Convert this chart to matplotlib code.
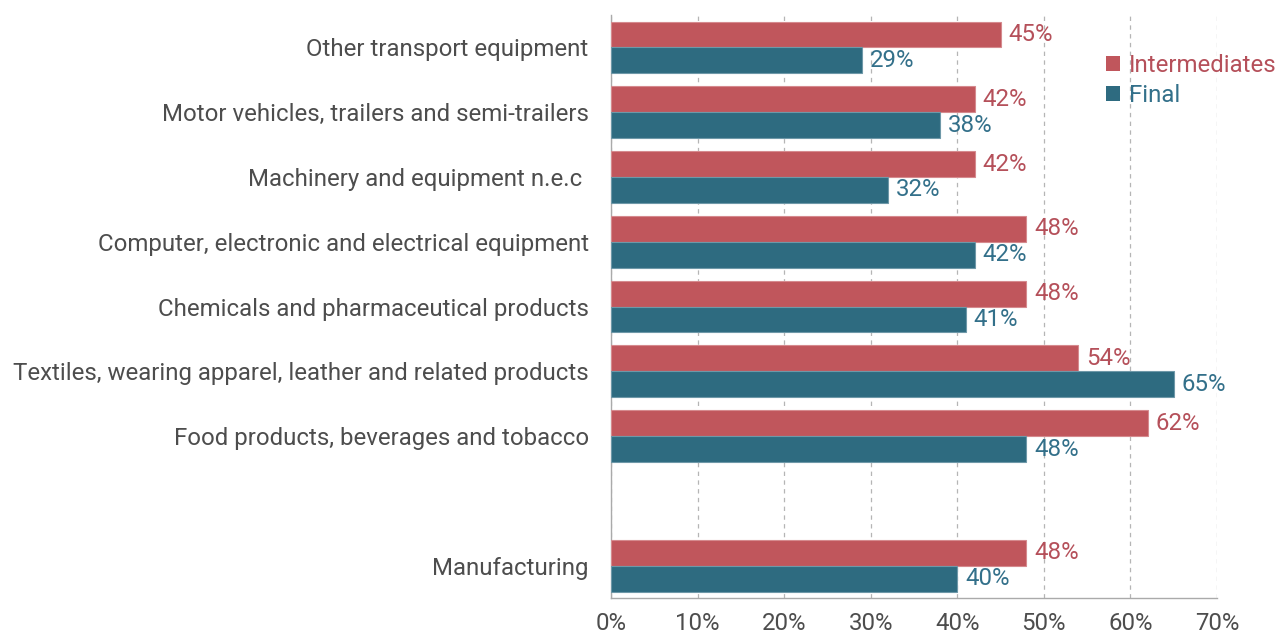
import matplotlib.pyplot as plt
from matplotlib.patches import Patch

plt.rcParams['font.family'] = ['Roboto', 'DejaVu Sans']

# sectors, top to bottom; None marks the blank gap before the total
sectors = ["Other transport equipment",
           "Motor vehicles, trailers and semi-trailers",
           "Machinery and equipment n.e.c ",
           "Computer, electronic and electrical equipment",
           "Chemicals and pharmaceutical products",
           "Textiles, wearing apparel, leather and related products",
           "Food products, beverages and tobacco",
           None,
           "Manufacturing"]
intermediates = [45, 42, 42, 48, 48, 54, 62, None, 48]
final = [29, 38, 32, 42, 41, 65, 48, None, 40]

red = '#C0565C'
red_txt = '#B5505A'
teal = '#2E6B80'
teal_txt = '#33708A'
fs = 17.3

fig = plt.figure(figsize=(12.76, 6.35), dpi=100)
ax = fig.add_axes([0.4788, 0.0583, 0.4749, 0.918])

h = 0.4
for i, (name, a, b) in enumerate(zip(sectors, intermediates, final)):
    if name is None:
        continue
    ax.barh(i - h / 2, a, height=h, color=red, edgecolor='#D58A8E', linewidth=0.8, zorder=3)
    ax.barh(i + h / 2, b, height=h, color=teal, edgecolor='#6E98A8', linewidth=0.8, zorder=3)
    ax.text(a + 0.9, i - h / 2, f"{a}%", va='center', ha='left', color=red_txt, fontsize=fs, zorder=4)
    ax.text(b + 0.9, i + h / 2, f"{b}%", va='center', ha='left', color=teal_txt, fontsize=fs, zorder=4)

ticks = [i for i, s in enumerate(sectors) if s is not None]
ax.set_yticks(ticks)
ax.set_yticklabels([sectors[i] for i in ticks], fontsize=fs, color='#4D4D4D')
ax.tick_params(axis='y', length=0, pad=16)

ax.set_xlim(0, 70)
ax.set_ylim(8.5, -0.5)
ax.set_xticks(range(0, 71, 10))
ax.set_xticklabels([f"{v}%" for v in range(0, 71, 10)], fontsize=fs, color='#4D4D4D')
ax.tick_params(axis='x', length=0, pad=10)

ax.grid(axis='x', linestyle=(0, (3.5, 3.5)), color='#B5B5B5', linewidth=0.9, zorder=0)
for side in ['top', 'right']:
    ax.spines[side].set_visible(False)
for side in ['left', 'bottom']:
    ax.spines[side].set_color('#AAAAAA')
    ax.spines[side].set_linewidth(1.0)

handles = [Patch(facecolor=red, label='Intermediates'), Patch(facecolor=teal, label='Final')]
ax.legend(handles=handles, loc='upper right', bbox_to_anchor=(1.122, 0.958), frameon=False,
          fontsize=fs, labelcolor=[red_txt, teal_txt], handlelength=0.6, handleheight=0.6,
          handletextpad=0.35, labelspacing=0.3, borderaxespad=0.2)

fig.savefig('out.png', dpi=100)
